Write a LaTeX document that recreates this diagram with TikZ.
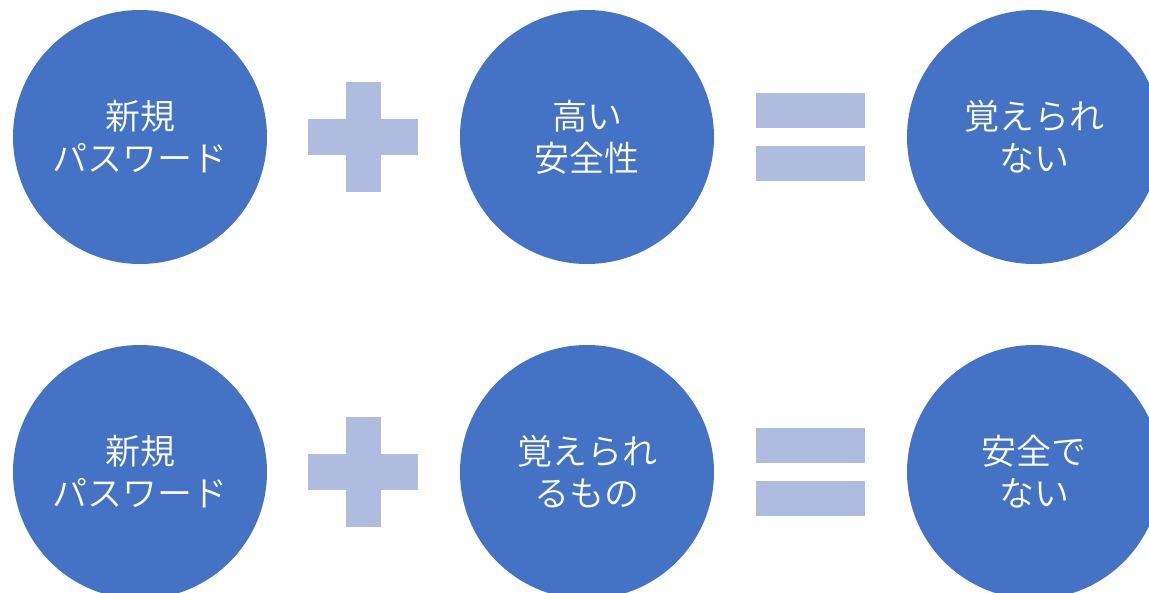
\documentclass[tikz,border=0pt]{standalone}
\usepackage{fontspec}
\newfontfamily\jp{Noto Sans CJK JP}[UprightFont={* DemiLight}]
\definecolor{cblue}{HTML}{4472C4}
\definecolor{clight}{HTML}{B0BCDF}
\begin{document}
\begin{tikzpicture}[x=1pt,y=-1pt,
  ball/.style={circle,fill=cblue,minimum size=254pt,inner sep=0pt,text=white,align=center,font=\jp\fontsize{35}{42}\selectfont},
  bar/.style={fill=clight}]
\useasboundingbox (0,0) rectangle (1149,593);
\begin{scope}
\clip (0,0) rectangle (1149,593);
\foreach \r/\cy in {1/137,2/472}{
  % plus
  \fill[bar] (308,\cy-18) rectangle (418,\cy+18);
  \fill[bar] (346,\cy-55) rectangle (381,\cy+55);
  % equals
  \fill[bar] (756,\cy-44) rectangle (865,\cy-9);
  \fill[bar] (756,\cy+9) rectangle (865,\cy+44);
}
\node[ball] (a1) at (140,137) {新規\\パスワード};
\node[ball] (b1) at (587,137) {高い\\安全性};
\node[ball] (c1) at (1034,137) {覚えられ\\ない};
\node[ball] (a2) at (140,472) {新規\\パスワード};
\node[ball] (b2) at (587,472) {覚えられ\\るもの};
\node[ball] (c2) at (1034,472) {安全で\\ない};
\end{scope}
\end{tikzpicture}
\end{document}
